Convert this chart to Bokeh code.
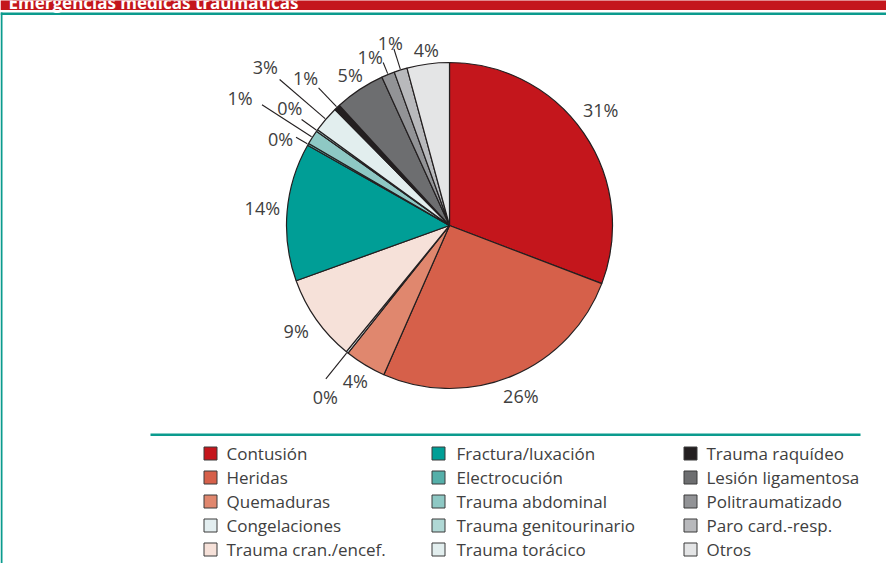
import numpy as np
from bokeh.plotting import figure
from bokeh.models import ColumnDataSource, Range1d
from bokeh.core.properties import value
from bokeh.embed import file_html
from bokeh.resources import INLINE

# ---------------- data ----------------
title = "Emergencias médicas traumáticas"
categories = ["Contusión", "Heridas", "Quemaduras", "Congelaciones", "Trauma cran./encef.",
              "Fractura/luxación", "Electrocución", "Trauma abdominal", "Trauma genitourinario",
              "Trauma torácico", "Trauma raquídeo", "Lesión ligamentosa", "Politraumatizado",
              "Paro card.-resp.", "Otros"]
percentages = [30.8, 25.8, 4.1, 0.2, 8.6, 13.7, 0.2, 1.4, 0.2, 2.6, 0.6, 5.0, 1.3, 1.3, 4.2]

# ---------------- styles / layout ----------------
colors = ["#c4161c", "#d6604a", "#e0876e", "#e3eef0", "#f6e1d9",
          "#009e96", "#55afa9", "#8ec8c4", "#b0d8d5", "#e2eeee",
          "#231f20", "#6d6e70", "#929396", "#b8b9bc", "#e4e5e6"]
label_r = [190, 185, 182, 212, 186, 188, 190, 245, 198, 243, 206, 180, 186, 192, 177]
label_nudge = [-2.7, 0, 0, -3, 0.8, 0.6, -2.7, -1.5, 0.6, 0, -0.8, 0, -3.1, -0.5, 0]
leader_end = [0, 0, 0, 197, 0, 0, 177, 223, 182, 224, 190, 0, 176, 185, 0]

RED = "#c4161c"
TEAL = "#0b9b8e"
TXT = "#404040"
FONT = "Open Sans"

W, H = 886, 563


def Y(y):
    # picture y (from top) -> data y
    return H - y


p = figure(width=W, height=H, x_range=Range1d(0, W), y_range=Range1d(0, H),
           output_backend="svg", toolbar_location=None, min_border=0,
           x_axis_location=None, y_axis_location=None)
p.grid.visible = False
p.outline_line_color = None
p.background_fill_color = "white"

# header band and frame
p.quad(left=[0], right=[W + 10], top=[Y(-5)], bottom=[Y(9.5)], fill_color=RED, line_color=None)
p.quad(left=[0], right=[W + 10], top=[Y(12)], bottom=[Y(14.5)], fill_color=TEAL, line_color=None)
p.quad(left=[0], right=[2], top=[Y(12)], bottom=[Y(H + 10)], fill_color=TEAL, line_color=None)
p.text(x=[8], y=[Y(1.5)], text=[title], text_color="white", text_font=value(FONT),
       text_font_size="17px", text_font_style="bold", text_baseline="alphabetic")

# pie
CX, CY, R = 449, 225, 163
vals = np.array(percentages, dtype=float)
frac = vals / vals.sum()
cum = np.cumsum(frac)
start_frac = cum - frac
start = np.pi / 2 - 2 * np.pi * start_frac
end = np.pi / 2 - 2 * np.pi * cum
src = ColumnDataSource(dict(start=start, end=end, color=colors))
p.wedge(x=CX, y=Y(CY), radius=R, start_angle="start", end_angle="end", direction="clock",
        fill_color="color", line_color="#231f20", line_width=1.2, source=src)

mid_deg = (start_frac + cum) / 2 * 360.0
lab_a = np.radians(mid_deg + np.array(label_nudge))
lr = np.array(label_r, dtype=float)
lx = CX + lr * np.sin(lab_a)
ly = Y(CY) + lr * np.cos(lab_a)
labels = [f"{int(v + 0.5)}%" for v in percentages]
p.text(x=lx, y=ly, text=labels, text_color=TXT, text_font=value(FONT), text_font_size="18px",
       text_align="center", text_baseline="middle")

# leader lines
le = np.array(leader_end, dtype=float)
m = le > 0
ma = np.radians(mid_deg[m])
p.segment(x0=CX + (R + 1) * np.sin(ma), y0=Y(CY) + (R + 1) * np.cos(ma),
          x1=CX + le[m] * np.sin(ma), y1=Y(CY) + le[m] * np.cos(ma),
          line_color="#231f20", line_width=1.1)

# legend
p.quad(left=[150], right=[860], top=[Y(433)], bottom=[Y(435.5)], fill_color=TEAL, line_color=None)
col_sq = [210, 438, 690]
col_tx = [226, 456, 706]
row_y0, row_dy = 453, 24
idx = np.arange(len(categories))
cols = idx // 5
rows = idx % 5
sq_x = np.array(col_sq)[cols]
tx_x = np.array(col_tx)[cols]
ry = Y(row_y0 + rows * row_dy)
p.rect(x=sq_x, y=ry, width=13, height=13, fill_color=colors, line_color="#3a3a3a", line_width=1)
p.text(x=tx_x, y=ry, text=categories, text_color=TXT, text_font=value(FONT), text_font_size="17px",
       text_align="left", text_baseline="middle")

open("out.html", "w").write(file_html(p, INLINE))
